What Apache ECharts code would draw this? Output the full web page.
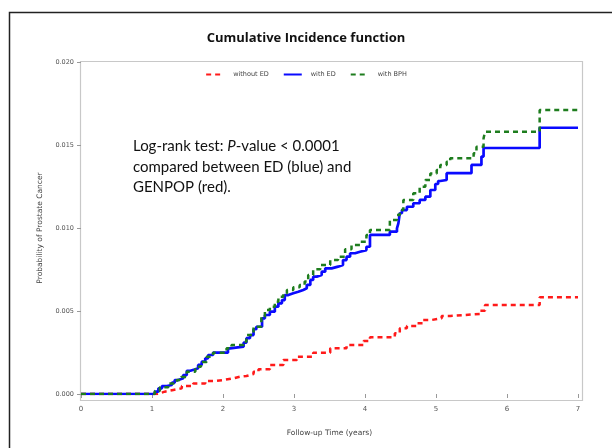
<!DOCTYPE html>
<html>
<head>
<meta charset="utf-8">
<script src="https://cdn.jsdelivr.net/npm/echarts@6/dist/echarts.min.js"></script>
<style>
html,body{margin:0;padding:0;background:#fff;}
#chart{width:612px;height:448px;}
</style>
</head>
<body>
<div id="chart"></div>
<script>
// ---- Data ----
const titleText = 'Cumulative Incidence function';
const seriesNames = ['without ED', 'with ED', 'with BPH'];
const xTicks = [0, 1, 2, 3, 4, 5, 6, 7];
const yTicks = [0, 0.005, 0.010, 0.015, 0.020];

// without ED (red, dashed)
const withoutED = [
  [0,0],[1.07,0.00004],[1.11,0.00014],[1.18,0.00024],[1.30,0.00034],[1.42,0.00048],
  [1.58,0.00064],[1.75,0.00078],[1.86,0.00084],[2.00,0.00095],[2.15,0.00104],[2.24,0.00108],
  [2.33,0.00120],[2.43,0.00134],[2.50,0.00149],[2.66,0.00175],[2.85,0.00205],[3.04,0.00225],
  [3.27,0.00249],[3.51,0.00275],[3.74,0.00295],[3.98,0.00319],[4.07,0.00342],[4.42,0.00366],
  [4.49,0.00396],[4.59,0.00410],[4.73,0.00426],[4.82,0.00446],[4.94,0.00456],[5.08,0.00470],
  [5.20,0.00482],[5.62,0.00502],[5.69,0.00536],[6.46,0.00583],[7.0,0.00583]
];

// with ED (blue, solid)
const withED = [
  [0,0],[1.04,0.00014],[1.09,0.00034],[1.14,0.00048],[1.21,0.00054],[1.28,0.00068],
  [1.32,0.00084],[1.37,0.00095],[1.44,0.00114],[1.49,0.00140],[1.54,0.00149],[1.61,0.00155],
  [1.65,0.00175],[1.70,0.00195],[1.75,0.00215],[1.79,0.00235],[1.86,0.00249],[2.07,0.00275],
  [2.10,0.00285],[2.29,0.00309],[2.33,0.00336],[2.38,0.00355],[2.43,0.00390],[2.47,0.00405],
  [2.55,0.00456],[2.59,0.00476],[2.66,0.00496],[2.73,0.00526],[2.78,0.00546],[2.83,0.00566],
  [2.87,0.00596],[2.92,0.00607],[2.99,0.00616],[3.06,0.00627],[3.13,0.00637],[3.18,0.00657],
  [3.23,0.00687],[3.27,0.00707],[3.32,0.00717],[3.39,0.00737],[3.44,0.00757],[3.53,0.00767],
  [3.62,0.00777],[3.69,0.00807],[3.74,0.00827],[3.79,0.00848],[3.86,0.00857],[3.93,0.00867],
  [4.02,0.00887],[4.07,0.00958],[4.35,0.00978],[4.45,0.00998],[4.47,0.01028],[4.49,0.01089],
  [4.52,0.01108],[4.59,0.01128],[4.68,0.01149],[4.77,0.01169],[4.85,0.01189],[4.92,0.01229],
  [4.99,0.01265],[5.03,0.01283],[5.06,0.01289],[5.15,0.01330],[5.50,0.01380],[5.64,0.01430],
  [5.67,0.01482],[6.46,0.01604],[7.0,0.01604]
];

// with BPH (green, dashed)
const withBPH = [
  [0,0],[1.04,0.00018],[1.11,0.00040],[1.23,0.00064],[1.35,0.00084],[1.41,0.00102],
  [1.49,0.00134],[1.61,0.00164],[1.69,0.00193],[1.77,0.00225],[1.86,0.00249],[2.05,0.00275],
  [2.12,0.00295],[2.29,0.00315],[2.33,0.00355],[2.43,0.00405],[2.54,0.00466],[2.59,0.00506],
  [2.66,0.00526],[2.73,0.00556],[2.78,0.00586],[2.85,0.00607],[2.90,0.00627],[2.99,0.00643],
  [3.08,0.00657],[3.15,0.00677],[3.20,0.00717],[3.27,0.00751],[3.37,0.00777],[3.51,0.00807],
  [3.62,0.00827],[3.72,0.00872],[3.81,0.00898],[3.93,0.00917],[4.02,0.00958],[4.07,0.00988],
  [4.35,0.01048],[4.45,0.01078],[4.49,0.01108],[4.54,0.01169],[4.68,0.01209],[4.77,0.01249],
  [4.85,0.01289],[4.92,0.01329],[5.01,0.01349],[5.06,0.01380],[5.15,0.01399],[5.20,0.01420],
  [5.53,0.01450],[5.57,0.01490],[5.67,0.01540],[5.69,0.01580],[6.46,0.01711],[7.0,0.01711]
];

const colors = ['#ff1a1a', '#0a0aff', '#1e7d1e'];

const chart = echarts.init(document.getElementById('chart'), null, {renderer: 'canvas'});
const axisTextColor = '#555';
const option = {
  animation: false,
  backgroundColor: '#fff',
  title: {
    text: titleText,
    left: 'center',
    top: 27,
    textStyle: {fontFamily: 'Open Sans', fontSize: 13, fontWeight: 'bold', color: '#111'}
  },
  legend: {
    top: 66,
    left: 'center',
    itemWidth: 18,
    itemHeight: 8,
    itemGap: 14,
    itemStyle: {opacity: 0},
    textStyle: {fontFamily: 'DejaVu Sans', fontSize: 6.5, color: '#444', padding: [0, 0, 0, 4]},
    data: seriesNames
  },
  grid: {left: 81, top: 62, width: 497, height: 332, containLabel: false},
  xAxis: {
    type: 'value', min: 0, max: 7, interval: 1,
    offset: 4,
    axisLine: {show: false},
    axisTick: {show: true, length: 4, lineStyle: {color: '#999'}},
    splitLine: {show: false},
    axisLabel: {margin: 8, fontFamily: 'DejaVu Sans', fontSize: 7, color: axisTextColor},
    name: 'Follow-up Time (years)',
    nameLocation: 'middle',
    nameGap: 31,
    nameTextStyle: {fontFamily: 'DejaVu Sans', fontSize: 7.5, color: '#444'}
  },
  yAxis: {
    type: 'value', min: 0, max: 0.020, interval: 0.005,
    offset: 3,
    axisLine: {show: false},
    axisTick: {show: true, length: 4, lineStyle: {color: '#999'}},
    splitLine: {show: false},
    axisLabel: {margin: 4, fontFamily: 'DejaVu Sans', fontSize: 6.5, color: axisTextColor,
      formatter: v => v.toFixed(3)},
    name: 'Probability of Prostate Cancer',
    nameLocation: 'middle',
    nameGap: 32,
    nameTextStyle: {fontFamily: 'DejaVu Sans', fontSize: 7.5, color: '#444'}
  },
  graphic: [
    {type: 'rect', left: 7, top: 10, shape: {width: 700, height: 500},
     style: {fill: 'none', stroke: '#222', lineWidth: 1.5}, silent: true, z: -10},
    {type: 'rect', left: 78, top: 59, shape: {width: 502, height: 339},
     style: {fill: 'none', stroke: '#c8c8c8', lineWidth: 1.2}, silent: true, z: -5},
    {type: 'text', left: 133, top: 136, z: 10,
     style: {
       text: 'Log-rank test: {i|P}-value < 0.0001\ncompared between ED (blue) and\nGENPOP (red).',
       font: '15px Lato',
       fill: '#111',
       lineHeight: 20.5,
       rich: {i: {fontStyle: 'italic', fontFamily: 'Lato', fontSize: 15, fill: '#111'}}
     }}
  ],
  series: [
    {name: seriesNames[0], type: 'line', step: 'end', symbol: 'none', data: withoutED,
     color: colors[0], lineStyle: {color: colors[0], width: 2.5, type: [5, 4]}},
    {name: seriesNames[1], type: 'line', step: 'end', symbol: 'none', data: withED,
     color: colors[1], lineStyle: {color: colors[1], width: 2.7, type: 'solid'}},
    {name: seriesNames[2], type: 'line', step: 'end', symbol: 'none', data: withBPH,
     color: colors[2], lineStyle: {color: colors[2], width: 2.5, type: [5, 4]}}
  ]
};
chart.setOption(option);
</script>
</body>
</html>
